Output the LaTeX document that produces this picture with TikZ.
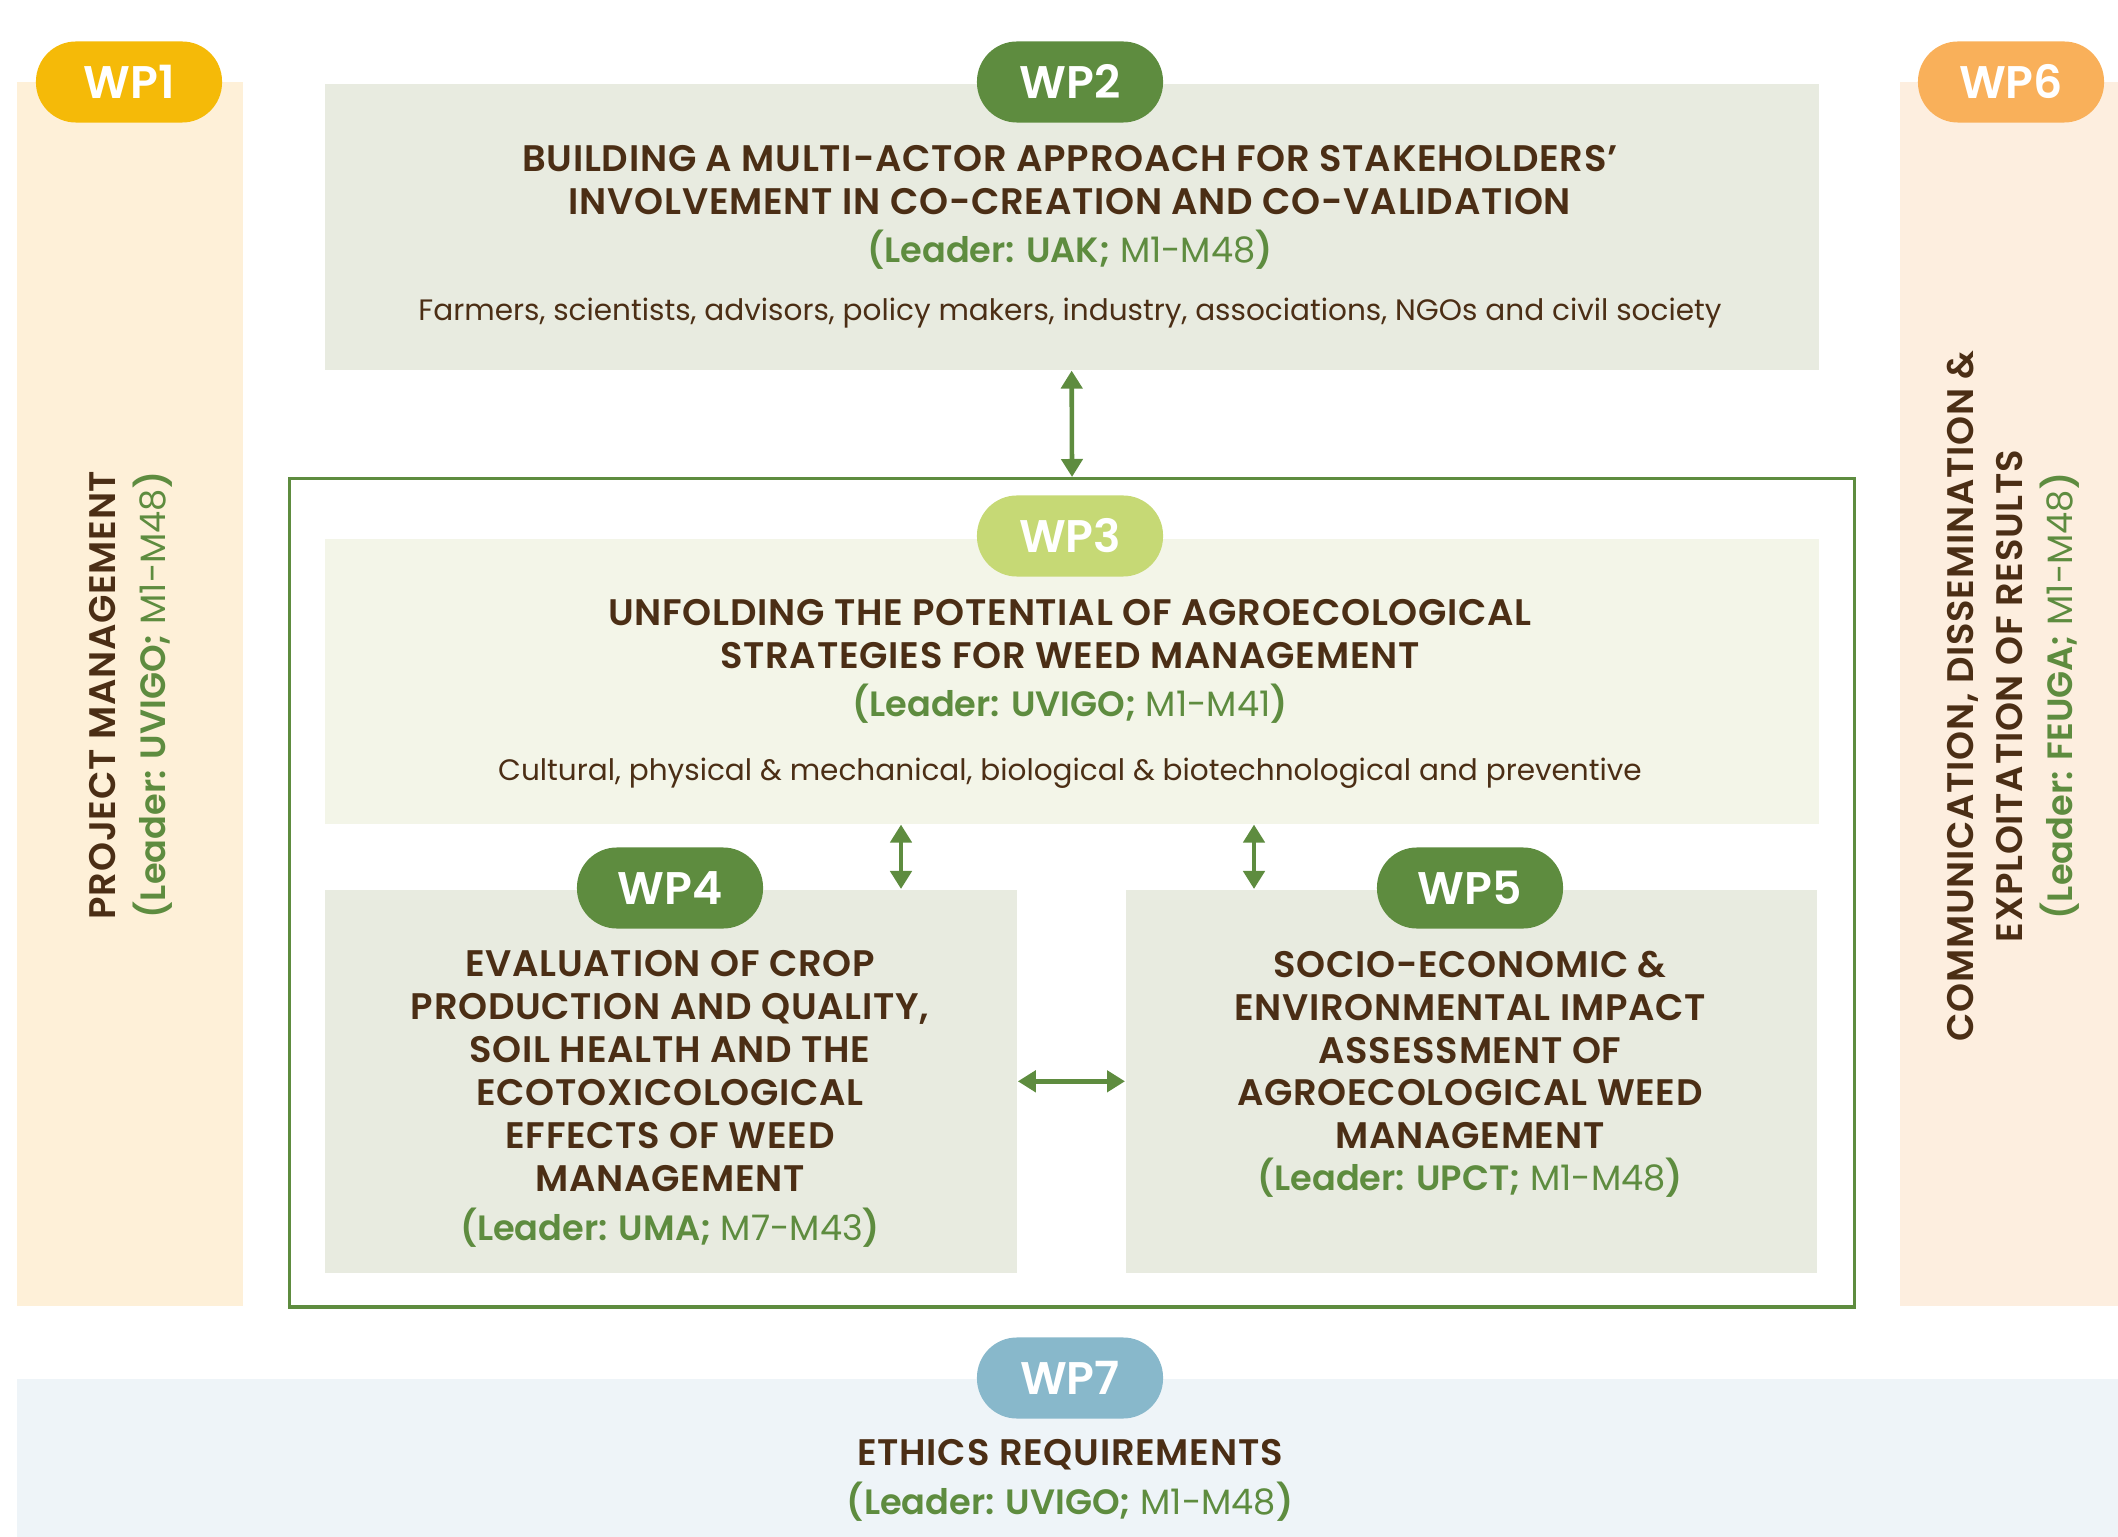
\documentclass[tikz,border=0pt]{standalone}
\usepackage{fontspec}
\setmainfont{Poppins}[BoldFont={Poppins SemiBold}]
\newfontfamily\titlefont{Poppins SemiBold}[LetterSpace=2]
\usetikzlibrary{arrows.meta}

\definecolor{wpbrown}{HTML}{4B2E15}
\definecolor{wpgreen}{HTML}{5E8C3F}
\definecolor{wplime}{HTML}{C6D975}
\definecolor{wpyellow}{HTML}{F5BA08}
\definecolor{wporange}{HTML}{F9B05A}
\definecolor{wpblue}{HTML}{88B8CB}
\definecolor{panelgrey}{HTML}{E8EBE0}
\definecolor{panellime}{HTML}{F3F5E8}
\definecolor{panelyellow}{HTML}{FEF0D8}
\definecolor{panelorange}{HTML}{FDEEDF}
\definecolor{panelblue}{HTML}{EEF4F8}

\newcommand{\leadertext}[2]{{\bfseries(Leader: #1;} #2{\bfseries)}}

\begin{document}
\begin{tikzpicture}[
				x=0.01cm, y=-0.01cm,
				% coloured pills carrying the work package numbers
				badge/.style={rounded corners=0.4cm, minimum width=1.86cm, minimum height=0.81cm,
					inner sep=0pt, text=white, font=\bfseries\fontsize{13}{13}\selectfont},
				panel/.style={anchor=north west, inner sep=0pt},
				wptitle/.style={text=wpbrown, align=center, font=\titlefont\fontsize{10.5}{12.2}\selectfont},
				wpleader/.style={text=wpgreen, align=center, font=\fontsize{10}{12.2}\selectfont},
				wpnote/.style={text=wpbrown, font=\fontsize{8.4}{10}\selectfont},
				link/.style={wpgreen, line width=1.3pt,
					{Triangle[width=0.21cm,length=0.18cm]}-{Triangle[width=0.21cm,length=0.18cm]}}
				]
				\useasboundingbox (0,0) rectangle (2118,1537);
				
				% side columns and bottom band
				\node[panel, fill=panelyellow, minimum width=2.26cm, minimum height=12.24cm] (wp1box) at (16,81) {};
				\node[panel, fill=panelorange, minimum width=2.19cm, minimum height=12.24cm] (wp6box) at (1899,81) {};
				\node[panel, fill=panelblue, minimum width=21.02cm, minimum height=1.59cm] (wp7box) at (16,1378) {};
				
				% central work packages
				\node[panel, fill=panelgrey, minimum width=14.93cm, minimum height=2.86cm] (wp2box) at (324,83) {};
				\node[panel, draw=wpgreen, line width=0.9pt, minimum width=15.64cm, minimum height=8.28cm] (frame) at (288,477) {};
				\node[panel, fill=panellime, minimum width=14.93cm, minimum height=2.85cm] (wp3box) at (324,538) {};
				\node[panel, fill=panelgrey, minimum width=6.92cm, minimum height=3.83cm] (wp4box) at (324,889) {};
				\node[panel, fill=panelgrey, minimum width=6.91cm, minimum height=3.83cm] (wp5box) at (1125,889) {};
				
				% badges
				\node[badge, fill=wpyellow] (wp1) at (129,82) {WP1};
				\node[badge, fill=wpgreen] (wp2) at (1070,82) {WP2};
				\node[badge, fill=wplime] (wp3) at (1070,536) {WP3};
				\node[badge, fill=wpgreen] (wp4) at (670,888) {WP4};
				\node[badge, fill=wpgreen] (wp5) at (1470,888) {WP5};
				\node[badge, fill=wporange] (wp6) at (2011,82) {WP6};
				\node[badge, fill=wpblue] (wp7) at (1070,1378) {WP7};
				
				% WP1
				\node[wptitle, rotate=90] (wp1title) at (103,695) {PROJECT MANAGEMENT};
				\node[wpleader, rotate=90] (wp1leader) at (153,695) {\leadertext{UVIGO}{M1-M48}};
				
				% WP2
				\node[wptitle] (wp2title) at (1070,180) {BUILDING A MULTI-ACTOR APPROACH FOR STAKEHOLDERS’\\INVOLVEMENT IN CO-CREATION AND CO-VALIDATION};
				\node[wpleader] (wp2leader) at (1070,250) {\leadertext{UAK}{M1-M48}};
				\node[wpnote] (wp2note) at (1070,313) {Farmers, scientists, advisors, policy makers, industry, associations, NGOs and civil society};
				
				% WP3
				\node[wptitle] (wp3title) at (1070,634) {UNFOLDING THE POTENTIAL OF AGROECOLOGICAL\\STRATEGIES FOR WEED MANAGEMENT};
				\node[wpleader] (wp3leader) at (1070,704) {\leadertext{UVIGO}{M1-M41}};
				\node[wpnote] (wp3note) at (1070,773) {Cultural, physical \& mechanical, biological \& biotechnological and preventive};
				
				% WP4
				\node[wptitle] (wp4title) at (670,1071) {EVALUATION OF CROP\\PRODUCTION AND QUALITY,\\SOIL HEALTH AND THE\\ECOTOXICOLOGICAL\\EFFECTS OF WEED\\MANAGEMENT};
				\node[wpleader] (wp4leader) at (670,1228) {\leadertext{UMA}{M7-M43}};
				
				% WP5
				\node[wptitle] (wp5title) at (1470,1050) {SOCIO-ECONOMIC \&\\ENVIRONMENTAL IMPACT\\ASSESSMENT OF\\AGROECOLOGICAL WEED\\MANAGEMENT};
				\node[wpleader] (wp5leader) at (1470,1178) {\leadertext{UPCT}{M1-M48}};
				
				% WP6
				\node[wptitle, rotate=90] (wp6title) at (1963,696) {COMMUNICATION, DISSEMINATION \&};
				\node[wptitle, rotate=90] (wp6title2) at (2010,696) {EXPLOITATION OF RESULTS};
				\node[wpleader, rotate=90] (wp6leader) at (2060,696) {\leadertext{FEUGA}{M1-M48}};
				
				% WP7
				\node[wptitle] (wp7title) at (1070,1455) {ETHICS REQUIREMENTS};
				\node[wpleader] (wp7leader) at (1070,1502) {\leadertext{UVIGO}{M1-M48}};
				
				% links between the work packages
				\coordinate (link4) at (901,0);
				\coordinate (link5) at (1254,0);
				\draw[link] (wp2box.south) -- (frame.north);
				\draw[link] (wp3box.south -| link4) -- (wp4box.north -| link4);
				\draw[link] (wp3box.south -| link5) -- (wp5box.north -| link5);
				\draw[link] (wp4box.east) -- (wp5box.west);
			\end{tikzpicture}
\end{document}
